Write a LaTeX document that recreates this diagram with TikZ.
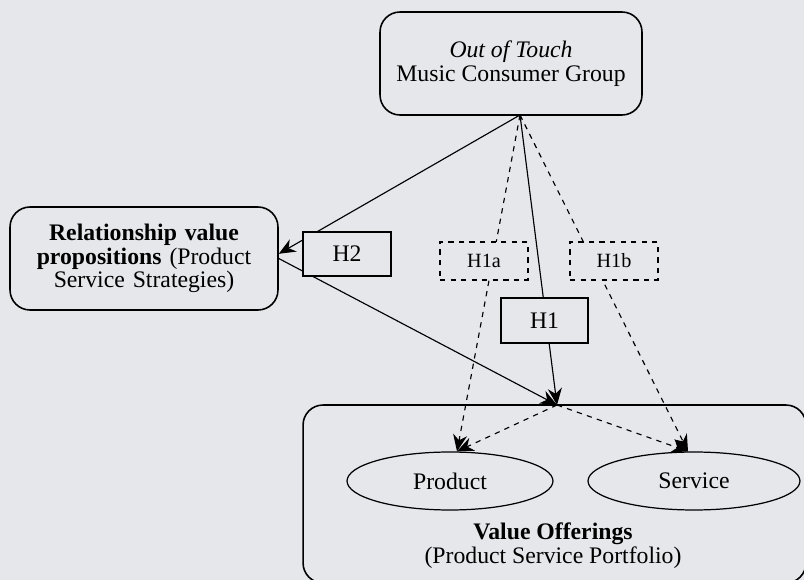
\documentclass[tikz,border=0pt]{standalone}
\usepackage{fontspec}
\setmainfont{Liberation Serif}
\usepackage{xcolor}
\usepackage{tikz}
\usetikzlibrary{shapes}
\usetikzlibrary{arrows.meta}
\definecolor{bggray}{RGB}{230,231,235}
\pgfdeclarelayer{background}
\pgfsetlayers{background,main}
\tikzset{
  rbox/.style={draw, line width=0.9pt, rounded corners=0.4cm, align=center},
  hbox/.style={draw, line width=0.9pt, fill=bggray, minimum width=1.76cm},
  hdash/.style={draw, dashed, line width=0.7pt, fill=bggray, minimum width=1.76cm, minimum height=0.76cm, font=\fontsize{11.5}{12}\selectfont},
  oval/.style={draw, ellipse, line width=0.7pt, minimum height=1.16cm},
  link/.style={->, line width=0.65pt},
}

\begin{document}
\begin{tikzpicture}[x=0.02cm, y=-0.02cm, >={Stealth[length=9.5pt,width=8pt]},
    font=\fontsize{13.5}{13.5}\selectfont]
    \useasboundingbox (0,0) rectangle (804,580);
    \begin{pgfonlayer}{background}
    \fill[bggray] (0,0) rectangle (804,580);
    \end{pgfonlayer}
    \node[rbox, minimum width=5.24cm, minimum height=2.06cm] (music) at (511,63.5) {\textit{Out of Touch}\\Music Consumer Group};
    \node[rbox, minimum width=5.36cm, minimum height=2.06cm, text width=4.3cm] (rel) at (144,258.5) {\textbf{Relationship value propositions} (Product Service Strategies)};
    \node[rbox, minimum width=10.06cm, minimum height=3.56cm] (offer) at (554.5,494) {};
    \node[align=center] (offertxt) at (553,546) {\textbf{Value Offerings}\\(Product Service Portfolio)};
    \node[oval, minimum width=4.12cm] (prod) at (450,481) {Product};
    \node[oval, minimum width=4.24cm] (serv) at (694,481) {Service};
    \node[hbox, minimum height=0.88cm] (h2) at (347,254) {H2};
    \node[hbox, minimum width=1.74cm, minimum height=0.9cm] (h1) at (544.5,320.5) {H1};
    \node[hdash] (h1a) at (484,261) {H1a};
    \node[hdash] (h1b) at (614,261) {H1b};
    \coordinate (apex) at (520,115);
    \coordinate (jn) at (557,405);
    \begin{pgfonlayer}{background}
    \draw[link] (apex) -- (rel.2);
    \draw[link] (rel.0) -- (jn);
    \draw[link] (apex) -- (jn);
    \draw[link, dashed] (apex) -- ([xshift=0.14cm]prod.north);
    \draw[link, dashed] (apex) -- ([xshift=-0.12cm]serv.north);
    \draw[link, dashed] (jn) -- ([xshift=0.14cm]prod.north);
    \draw[link, dashed] (jn) -- ([xshift=-0.12cm]serv.north);
    \end{pgfonlayer}
    \end{tikzpicture}
\end{document}
